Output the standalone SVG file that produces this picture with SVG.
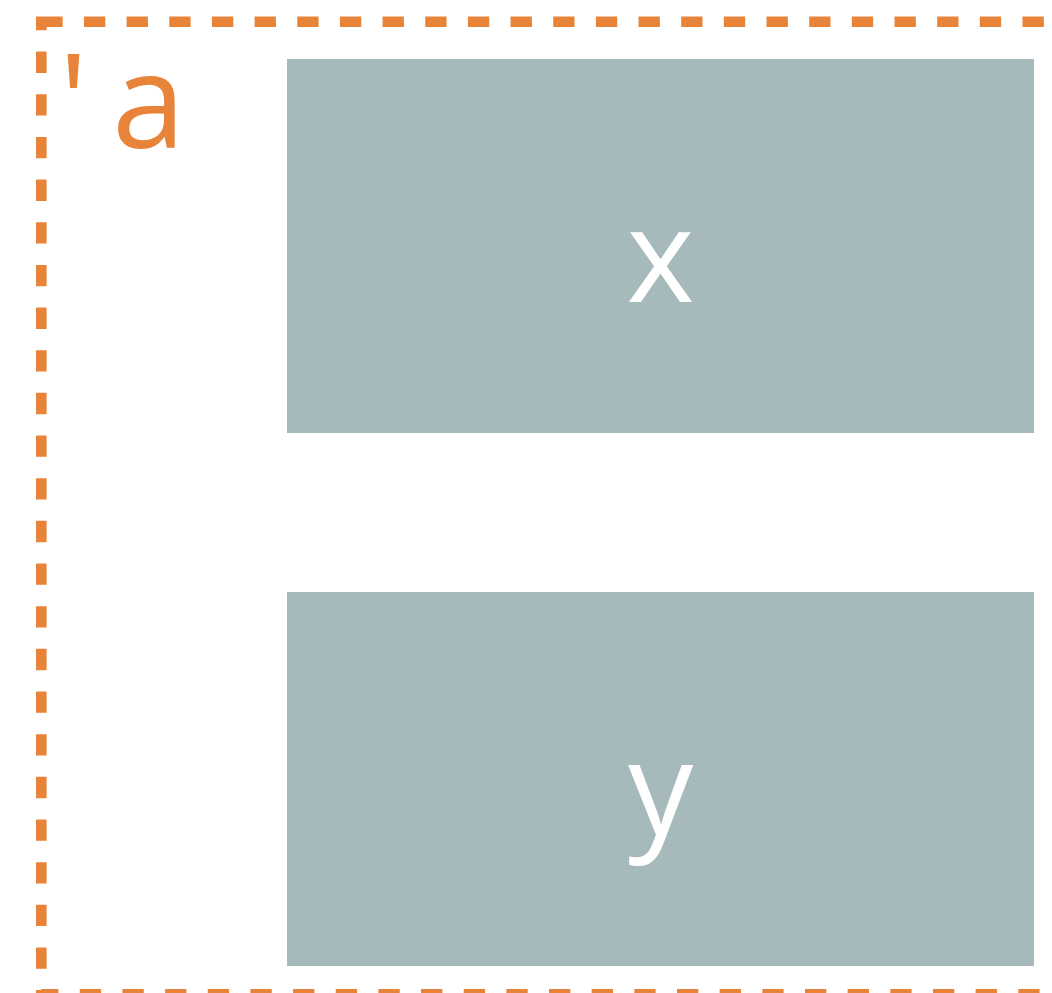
<svg xmlns="http://www.w3.org/2000/svg" width="1052" height="993" viewBox="0 0 1052 993">
<style>
.frame{fill:none;stroke:#E8833A;stroke-width:10.6;stroke-dasharray:21.33 21.33}
.box{fill:#A7BABB}
.lbl{font-family:"Open Sans","Noto Sans",sans-serif;font-size:130px;fill:#FFFFFF;text-anchor:middle}
.title{font-family:"Open Sans","Noto Sans",sans-serif;font-size:132px;fill:#E8833A}
</style>
<g id="group-a">
<rect class="frame" x="41.3" y="21.7" width="1036.7" height="972.6"/>
<text class="title" x="59" y="148">'<tspan x="112">a</tspan></text>
</g>
<g id="node-x">
<rect class="box" x="287" y="59" width="747" height="374"/>
<text class="lbl" x="660.5" y="302">x</text>
</g>
<g id="node-y">
<rect class="box" x="287" y="592" width="747" height="374"/>
<text class="lbl" x="660.5" y="835">y</text>
</g>
<g id="connectors"></g>
</svg>
